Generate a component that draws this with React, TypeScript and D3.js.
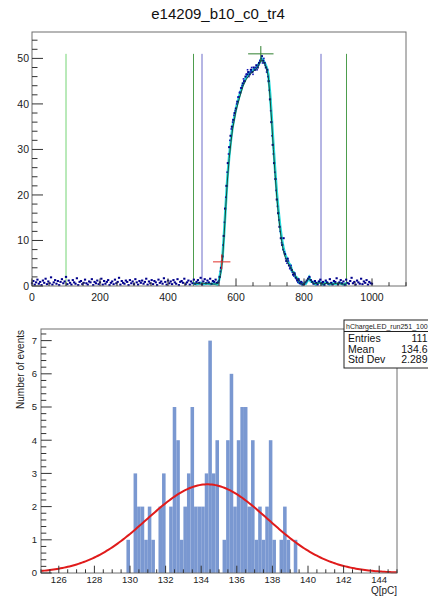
import React from "react";
import * as d3 from "d3";

// ---------- top panel data ----------
const topTitle = "e14209_b10_c0_tr4";
const topXTicks = [0, 200, 400, 600, 800, 1000];
const topYTicks = [0, 10, 20, 30, 40, 50];
const traceStep = 4;
const baseA = [
  0.6, 1.1, 0.3, 0.8, 1.4, 0.5, 0.9, 0.2, 1.2, 0.7,
  1.6, 0.4, 1.0, 0.6, 1.9, 0.3, 0.8, 1.3, 0.5, 1.1,
  0.2, 0.9, 1.5, 0.6, 1.0, 2.0, 0.4, 1.2, 0.7, 0.3,
  1.3, 0.8, 0.5, 1.7, 0.2, 0.9, 1.1, 0.4, 0.7, 1.4,
  0.6, 0.3, 1.0, 0.8, 1.5, 0.2, 0.9, 0.6, 1.2, 0.4,
  0.8, 1.6, 0.3, 1.1, 0.5, 0.9, 1.3, 0.2, 0.7, 1.0,
  0.4, 1.4, 0.6, 0.9, 1.8, 0.3, 1.1, 0.7, 0.5, 1.2,
  0.9, 0.2, 1.3, 0.6, 1.0, 0.4, 1.5, 0.8, 0.3, 1.1,
  0.7, 1.2, 0.5, 0.9, 1.6, 0.3, 1.0, 0.6, 1.3, 0.4,
  1.1, 0.8, 0.2, 1.4, 0.7, 1.0, 0.5, 1.7, 0.9, 0.3,
  1.2, 0.6, 1.0, 0.4, 1.3, 0.8, 0.5, 1.5, 0.2, 0.9,
  1.1, 0.7, 1.6, 0.4, 0.8, 1.2, 0.3, 1.0, 0.6, 1.4,
  0.5, 0.9, 1.3, 0.7, 1.8, 0.4, 1.0, 1.5, 0.6, 1.2,
  0.8, 1.6, 0.5, 1.1, 0.9, 1.4, 0.7,
];
const pulse = [
  0.8, 2, 4, 6.5, 11, 17, 22, 27, 30.5, 33,
  35, 36.5, 38, 39, 40.5, 41.5, 42.5, 43.5, 44.5, 45,
  46, 46.5, 47, 46.5, 47.5, 47, 48, 47.5, 48.5, 48,
  49, 49.5, 50.5, 49.5, 49, 48, 47.5, 45, 41, 36,
  31, 27, 23.5, 19, 16, 13, 10.5, 9, 10.5, 7,
  5.5, 6, 4.5, 4, 3.5, 2.5, 2.8, 1.8, 1.2, 1.5,
  0.6, 0.9, 0.3,
];
const baseB = [
  0.4, 0.8, 1.2, 1.6, 2.0, 1.3, 0.9, 0.5, 1.1, 0.7,
  0.3, 1.0, 1.4, 0.6, 0.9, 0.2, 1.2, 0.8, 0.5, 1.5,
  0.7, 0.3, 1.1, 0.9, 1.7, 0.4, 0.8, 1.3, 0.6, 1.0,
  0.2, 1.4, 0.7, 0.5, 1.1, 1.8, 0.6, 0.9, 0.3, 1.2,
  0.8, 0.5, 1.6, 0.4, 1.0, 0.7, 1.3, 0.3, 0.9, 0.6,
  0.5,
];
const pulse2Start = 550;
const pulse2 = [
  1.2, 3.2, 5.5, 9, 14, 19.5, 25, 29, 32, 34.5,
  36, 37.5, 38.5, 40, 41.5, 42.5, 43.5, 44, 45.5, 45,
  46.5, 47.5, 46, 47, 48, 46.5, 47.5, 48, 47.5, 48.5,
  49.5, 50, 49, 50, 48.5, 47, 46, 43, 38.5, 33,
  29, 25, 21, 17.5, 14.5, 12, 9.5, 8, 7.5, 6,
  5, 5.5, 3.8, 4.5, 3, 2.2, 2.5, 1.5, 0.8, 1.2,
  0.5, 0.7,
];
const lineX = [
  475, 485, 495, 505, 515, 525, 535, 545,
  550, 555, 560, 565, 570, 575, 580, 585, 590, 595, 600,
  610, 620, 630, 640, 650, 660,
  665, 670, 675, 680, 685, 690, 695, 700, 705, 710, 715, 720, 725, 730,
  735, 740, 745, 750, 755, 760, 765, 770, 775, 780, 785, 790, 795, 800,
  805, 810, 815, 820, 825,
  835, 845, 855, 865, 875, 885, 895, 905, 915, 925,
];
const fitY = [
  0.5, 0.6, 0.4, 0.6, 0.5, 0.5, 0.4, 0.5,
  1.0, 2.8, 5.5, 11, 17.5, 23.5, 28, 31.5, 34.5, 36.5, 38.5,
  41.3, 43.8, 45.4, 46.4, 47.1, 47.7,
  48.2, 49, 49.7, 49.3, 48.7, 47.8, 46, 41.5, 36, 30, 24.5, 19.5, 15.5, 12.2,
  9.5, 7.5, 6.3, 5.5, 4.8, 4.2, 3.5, 2.8, 2.2, 1.6, 1.0, 0.6, 0.4, 0.4,
  0.8, 1.4, 1.7, 1.2, 0.7,
  0.5, 0.7, 0.4, 0.6, 0.5, 0.4, 0.6, 0.5, 0.4, 0.5,
];
const cyanY = [
  0.6, 0.4, 0.7, 0.4, 0.6, 0.4, 0.6, 0.3,
  1.3, 3.2, 6.0, 11.5, 18, 24, 28.5, 32, 35, 37, 39,
  41.8, 44.2, 45.8, 46.8, 47.4, 48,
  48.5, 49.2, 50, 49.6, 48.9, 48, 46.5, 42.5, 37, 31, 25.5, 20.5, 16.5, 13,
  10.2, 8.2, 6.8, 6.0, 5.0, 4.6, 3.2, 3.0, 2.0, 1.8, 0.8, 0.9, 0.3, 0.6,
  0.5, 1.1, 1.9, 1.0, 0.9,
  0.3, 0.9, 0.3, 0.8, 0.3, 0.6, 0.4, 0.7, 0.3, 0.6,
];
const greenCuts = [100, 475, 925];
const blueCuts = [500, 850];
const cutTop = 51;
const startMarker = [558, 5.3];
const peakMarker = [673, 51];

// ---------- bottom panel data ----------
const histStart = 129.8;
const binWidth = 0.2;
const histCounts = [
  1, 0, 3, 2, 2, 1, 2, 1, 0, 2,
  3, 0, 2, 5, 4, 1, 2, 3, 5, 2,
  2, 2, 3, 7, 3, 4, 0, 1, 4, 6,
  2, 4, 5, 5, 2, 4, 1, 2, 1, 2,
  4, 1, 0, 1, 2, 1, 0, 1,
];
const botXTicks = [126, 128, 130, 132, 134, 136, 138, 140, 142, 144];
const botYTicks = [0, 1, 2, 3, 4, 5, 6, 7];
const gaussAmp = 2.67;
const gaussMean = 134.35;
const gaussSigma = 3.4;
const statsTitle = "hChargeLED_run251_100";
const statsLabels = ["Entries", "Mean", "Std Dev"];
const statsValues = ["111", "134.6", "2.289"];

const FONT = "'Liberation Sans', Arial, Helvetica, sans-serif";

export default function App() {
  // top panel geometry
  const tL = 32, tR = 406, tT = 32, tB = 286;
  const tx = d3.scaleLinear().domain([0, 1100]).range([tL, tR]);
  const ty = d3.scaleLinear().domain([0, 55.8]).range([tB, tT]);

  const traceY = [...baseA, ...pulse, ...baseB];
  const dots = traceY.map((v, i) => [i * traceStep, v]);
  const dots2 = pulse2.map((v, i) => [pulse2Start + i * traceStep, v]);

  const lineGen = d3
    .line<number>()
    .x((_, i) => tx(lineX[i]))
    .y((d) => ty(d));

  const topMinorX = d3.range(0, 1101, 50);
  const topMinorY = d3.range(0, 55.8, 2);

  // bottom panel geometry
  const bL = 41, bR = 397, bT = 329, bB = 573;
  const bx = d3.scaleLinear().domain([125, 145]).range([bL, bR]);
  const by = d3.scaleLinear().domain([0, 7.35]).range([bB, bT]);
  const botMinorX = d3.range(125, 145.01, 0.5);
  const botMinorY = d3.range(0, 7.35, 0.2);

  const gaussPts = d3.range(125, 145.001, 0.1).map((x) => [
    x,
    gaussAmp * Math.exp(-((x - gaussMean) ** 2) / (2 * gaussSigma * gaussSigma)),
  ]);
  const gaussLine = d3
    .line<number[]>()
    .x((d) => bx(d[0]))
    .y((d) => by(d[1]))
    .curve(d3.curveLinear);

  const frameColor = "#6e6e6e";
  const tickColor = "#333";

  return (
    <svg
      width={428}
      height={597}
      style={{ position: "absolute", left: 0, top: 0, background: "#fff" }}
      fontFamily={FONT}
    >
      <rect x={0} y={0} width={428} height={597} fill="#fff" />
      {/* ===== TOP PANEL ===== */}
      <text x={218} y={18.5} fontSize={15} textAnchor="middle" fill="#111">
        {topTitle}
      </text>
      {greenCuts.map((c, i) => (
        <line
          key={"g" + i}
          x1={tx(c)}
          x2={tx(c)}
          y1={ty(0)}
          y2={ty(cutTop)}
          stroke={i === 0 ? "#74d474" : "#4d9d4d"}
          strokeWidth={1}
        />
      ))}
      {blueCuts.map((c, i) => (
        <line
          key={"b" + i}
          x1={tx(c)}
          x2={tx(c)}
          y1={ty(0)}
          y2={ty(cutTop)}
          stroke="#6d6dc9"
          strokeWidth={1}
        />
      ))}
      <path d={lineGen(cyanY) || ""} fill="none" stroke="#22dcdc" strokeWidth={2.6} />
      {dots.map((d, i) => (
        <rect key={"d" + i} x={tx(d[0]) - 1.1} y={ty(d[1]) - 1} width={2.2} height={2} fill="#00008c" />
      ))}
      {dots2.map((d, i) => (
        <rect key={"e" + i} x={tx(d[0]) - 0.8} y={ty(d[1]) - 0.8} width={1.6} height={1.6} fill="#1515b5" />
      ))}
      <path d={lineGen(fitY) || ""} fill="none" stroke="#1b4a3a" strokeWidth={1} />
      <g stroke="#e0302a" strokeWidth={1}>
        <line x1={tx(startMarker[0]) - 8.7} x2={tx(startMarker[0]) + 8.7} y1={ty(startMarker[1])} y2={ty(startMarker[1])} />
        <line x1={tx(startMarker[0])} x2={tx(startMarker[0])} y1={ty(startMarker[1]) - 7.5} y2={ty(startMarker[1]) + 7.5} />
      </g>
      <g stroke="#2f7f2f" strokeWidth={1}>
        <line x1={tx(peakMarker[0]) - 12.7} x2={tx(peakMarker[0]) + 12.7} y1={ty(peakMarker[1])} y2={ty(peakMarker[1])} />
        <line x1={tx(peakMarker[0])} x2={tx(peakMarker[0])} y1={ty(peakMarker[1]) - 7.8} y2={ty(peakMarker[1]) + 7.8} />
      </g>
      <rect x={tL} y={tT} width={tR - tL} height={tB - tT} fill="none" stroke={frameColor} strokeWidth={1} />
      <g stroke={tickColor} strokeWidth={1}>
        {topMinorX.map((v) => (
          <line key={"tmx" + v} x1={tx(v)} x2={tx(v)} y1={tB} y2={tB - (v % 200 === 0 ? 7.6 : 3.8)} />
        ))}
        {topMinorY.map((v) => (
          <line key={"tmy" + v} x1={tL} x2={tL + (v % 10 === 0 ? 11 : 5.5)} y1={ty(v)} y2={ty(v)} />
        ))}
      </g>
      <g fontSize={10.5} fill="#222">
        {topXTicks.map((v) => (
          <text key={"tx" + v} x={tx(v)} y={301} textAnchor="middle">
            {v}
          </text>
        ))}
        {topYTicks.map((v) => (
          <text key={"ty" + v} x={29} y={ty(v) + 3.8} textAnchor="end">
            {v}
          </text>
        ))}
      </g>

      {/* ===== BOTTOM PANEL ===== */}
      {histCounts.map((c, i) =>
        c > 0 ? (
          <rect
            key={"h" + i}
            x={bx(histStart + i * binWidth)}
            y={by(c)}
            width={bx(histStart + (i + 1) * binWidth) - bx(histStart + i * binWidth)}
            height={by(0) - by(c)}
            fill="#7a98d1"
          />
        ) : null
      )}
      <path d={gaussLine(gaussPts) || ""} fill="none" stroke="#e01b1b" strokeWidth={2} />
      <rect x={bL} y={bT} width={bR - bL} height={bB - bT} fill="none" stroke={frameColor} strokeWidth={1} />
      <g stroke={tickColor} strokeWidth={1}>
        {botMinorX.map((v, i) => (
          <line key={"bmx" + i} x1={bx(v)} x2={bx(v)} y1={bB} y2={bB - (i % 4 === 2 ? 7.3 : 3.7)} />
        ))}
        {botMinorY.map((v, i) => (
          <line key={"bmy" + i} x1={bL} x2={bL + (i % 5 === 0 ? 10.7 : 5.3)} y1={by(v)} y2={by(v)} />
        ))}
      </g>
      <g fontSize={9.5} fill="#222">
        {botXTicks.map((v) => (
          <text key={"bx" + v} x={bx(v)} y={583} textAnchor="middle">
            {v}
          </text>
        ))}
        {botYTicks.map((v) => (
          <text key={"by" + v} x={37} y={by(v) + 3.4} textAnchor="end">
            {v}
          </text>
        ))}
      </g>
      <text transform="translate(24,330) rotate(-90)" fontSize={10} textAnchor="end" fill="#222">
        Number of events
      </text>
      <text x={397} y={594} fontSize={10} textAnchor="end" fill="#222">
        Q[pC]
      </text>
      <rect x={344} y={320} width={90} height={48} fill="#fff" stroke="#222" strokeWidth={1} />
      <line x1={344} x2={434} y1={331.5} y2={331.5} stroke="#222" strokeWidth={1} />
      <text x={346} y={328.8} fontSize={7} fill="#222">
        {statsTitle}
      </text>
      {statsLabels.map((l, i) => (
        <g key={"s" + i}>
          <text x={348} y={342 + i * 10.5} fontSize={10.5} fill="#111">
            {l}
          </text>
          <text x={427.5} y={342 + i * 10.5} fontSize={10.5} fill="#111" textAnchor="end">
            {statsValues[i]}
          </text>
        </g>
      ))}
    </svg>
  );
}
